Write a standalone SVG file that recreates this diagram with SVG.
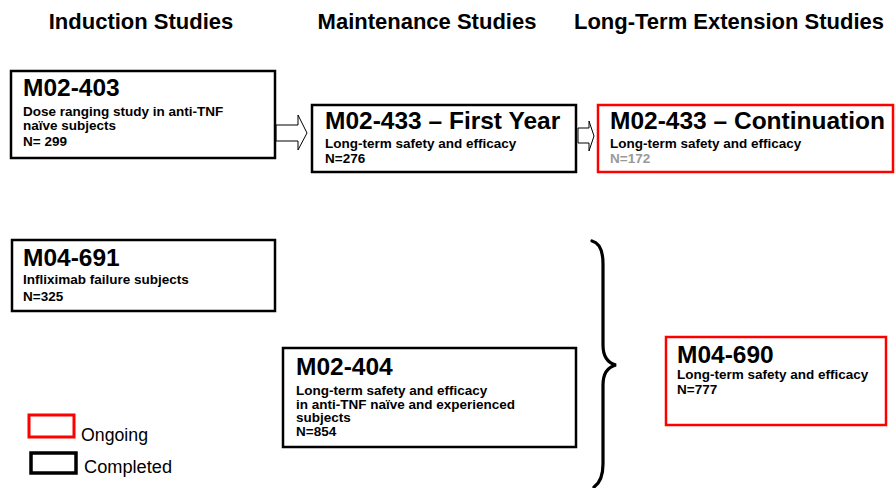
<svg xmlns="http://www.w3.org/2000/svg" width="896" height="488" viewBox="0 0 896 488">
<style>
  text { font-family: "Liberation Sans", Arial, sans-serif; fill: #000; }
  .hdr { font-size: 22px; font-weight: bold; text-anchor: middle; }
  .ttl { font-size: 24.5px; font-weight: bold; }
  .sub { font-size: 13.5px; font-weight: bold; }
  .gray { fill: #999999; }
  .box { fill: #ffffff; stroke: #000000; stroke-width: 2.5; }
  .ongoing { fill: #ffffff; stroke: #ff0000; stroke-width: 2.5; }
  .arrow { fill: #ffffff; stroke: #000000; stroke-width: 1; }
  .brace { fill: none; stroke: #000000; stroke-width: 3.2; stroke-linecap: round; }
  .leg { font-size: 18px; }
</style>
<rect width="896" height="488" fill="#ffffff"/>

<g id="headers">
  <text class="hdr" x="141" y="29">Induction Studies</text>
  <text class="hdr" x="427" y="29">Maintenance Studies</text>
  <text class="hdr" x="729" y="29">Long-Term Extension Studies</text>
</g>

<g id="connectors">
  <polygon class="arrow" points="276,125 298,125 298,115 307,133 298,150 298,141 276,141"/>
  <polygon class="arrow" points="578,128 589,128 589,121 594,136 589,151 589,143 578,143"/>
  <path class="brace" d="M592,241 C600,243 603,252 603,264 L603,345 C603,357 608,363 616,365 C608,367 603,373 603,385 L603,464 C603,476 600,483 594,487"/>
</g>

<g id="M02-403">
  <rect class="box" x="11" y="71" width="264" height="87"/>
  <text class="ttl" x="23" y="96">M02-403</text>
  <text class="sub" x="23" y="116">Dose ranging study in anti-TNF</text>
  <text class="sub" x="23" y="129.5">naïve subjects</text>
  <text class="sub" x="23" y="145.5">N= 299</text>
</g>

<g id="M02-433-first-year">
  <rect class="box" x="312" y="105" width="264" height="67"/>
  <text class="ttl" x="325" y="128.5">M02-433 – First Year</text>
  <text class="sub" x="325" y="148">Long-term safety and efficacy</text>
  <text class="sub" x="325" y="163">N=276</text>
</g>

<g id="M02-433-continuation">
  <rect class="ongoing" x="598" y="105" width="295" height="67"/>
  <text class="ttl" x="610" y="128.5">M02-433 – Continuation</text>
  <text class="sub" x="610" y="148">Long-term safety and efficacy</text>
  <text class="sub gray" x="610" y="163">N=172</text>
</g>

<g id="M04-691">
  <rect class="box" x="12" y="240" width="263" height="71"/>
  <text class="ttl" x="23" y="266">M04-691</text>
  <text class="sub" x="23" y="284">Infliximab failure subjects</text>
  <text class="sub" x="23" y="300.5">N=325</text>
</g>

<g id="M02-404">
  <rect class="box" x="283" y="348" width="293" height="99"/>
  <text class="ttl" x="296" y="375">M02-404</text>
  <text class="sub" x="296" y="395">Long-term safety and efficacy</text>
  <text class="sub" x="296" y="408.5">in anti-TNF naïve and experienced</text>
  <text class="sub" x="296" y="422">subjects</text>
  <text class="sub" x="296" y="436">N=854</text>
</g>

<g id="M04-690">
  <rect class="ongoing" x="666" y="337" width="220" height="88"/>
  <text class="ttl" x="677" y="363">M04-690</text>
  <text class="sub" x="677" y="379">Long-term safety and efficacy</text>
  <text class="sub" x="677" y="394">N=777</text>
</g>

<g id="legend">
  <rect x="29" y="415" width="45" height="22" fill="none" stroke="#ff0000" stroke-width="3"/>
  <text class="leg" x="81" y="441" textLength="67" lengthAdjust="spacingAndGlyphs">Ongoing</text>
  <rect x="31" y="453" width="45" height="20" fill="none" stroke="#000000" stroke-width="3.5"/>
  <text class="leg" x="84" y="473" textLength="88" lengthAdjust="spacingAndGlyphs">Completed</text>
</g>
</svg>
